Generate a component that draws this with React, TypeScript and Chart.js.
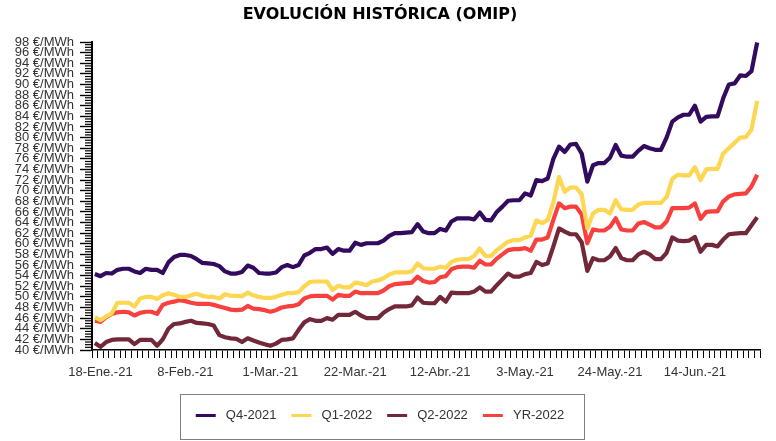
import React, { useEffect, useRef } from 'react';
import { Chart, registerables } from 'chart.js';

Chart.register(...registerables);

const MONTHS = ['Ene.', 'Feb.', 'Mar.', 'Abr.', 'May.', 'Jun.', 'Jul.'];
const START_DATE = [2021, 0, 15];
const POINT_COUNT = 118;

const TICK_LABELS = ['18-Ene.-21', '8-Feb.-21', '1-Mar.-21', '22-Mar.-21', '12-Abr.-21', '3-May.-21', '24-May.-21', '14-Jun.-21'];

const Y_MIN = 40;
const Y_MAX = 98;
const Y_MAJOR_STEP = 2;
const Y_MINOR_STEP = 0.5;

const Q4_2021 = [
  54.3, 53.9, 54.5, 54.4, 55.1, 55.3, 55.3, 54.8, 54.5, 55.3,
  55.1, 55.1, 54.5, 56.5, 57.5, 57.9, 57.9, 57.7, 57.1, 56.4,
  56.3, 56.2, 55.8, 54.8, 54.4, 54.4, 54.7, 55.9, 55.5, 54.5,
  54.4, 54.4, 54.6, 55.6, 56.0, 55.6, 56.0, 57.8, 58.3, 59.0,
  59.0, 59.3, 58.1, 59.0, 58.7, 58.7, 60.2, 59.8, 60.1, 60.1,
  60.1, 60.6, 61.5, 62.0, 62.0, 62.1, 62.2, 63.7, 62.3, 62.0,
  62.0, 62.8, 62.5, 64.2, 64.8, 64.8, 64.8, 64.6, 65.9, 64.5,
  64.4, 66.0, 67.0, 68.1, 68.2, 68.2, 69.5, 69.1, 72.0, 71.8,
  72.3, 76.0, 78.3, 77.3, 78.7, 78.8, 77.0, 71.7, 74.8, 75.2,
  75.2, 76.2, 78.6, 76.6, 76.4, 76.4, 77.5, 78.4, 78.0, 77.7,
  77.7, 80.0, 83.0, 83.8, 84.3, 84.3, 86.0, 83.0, 83.9, 84.0,
  84.0, 87.4, 90.0, 90.2, 91.7, 91.6, 92.5, 97.9,
];

const Q1_2022 = [
  46.2, 45.6, 46.3, 46.9, 48.9, 48.9, 48.9, 48.2, 49.7, 50.0,
  50.0, 49.6, 50.3, 50.7, 50.4, 50.0, 50.0, 50.3, 50.6, 50.2,
  50.0, 50.0, 49.7, 50.5, 50.2, 50.2, 50.1, 50.8, 50.3, 50.0,
  49.8, 49.8, 50.0, 50.4, 50.7, 50.7, 50.9, 52.0, 52.8, 52.9,
  52.9, 52.9, 51.3, 52.1, 51.8, 51.8, 52.7, 52.5, 52.2, 52.9,
  53.1, 53.5, 54.2, 54.6, 54.6, 54.6, 54.8, 56.3, 55.4, 55.3,
  55.3, 55.7, 55.5, 56.6, 57.0, 57.1, 57.1, 57.7, 59.1, 57.7,
  57.7, 58.8, 59.6, 60.4, 60.7, 60.7, 61.2, 61.5, 64.4, 63.9,
  64.5, 67.8, 72.6, 69.8, 70.6, 70.6, 69.3, 62.9, 65.7, 66.4,
  66.4, 65.7, 68.2, 66.5, 66.4, 66.4, 67.4, 67.7, 67.7, 67.7,
  67.7, 68.8, 72.2, 73.0, 72.9, 72.9, 74.4, 72.0, 74.0, 74.1,
  74.1, 77.0, 78.0, 79.0, 80.0, 80.1, 81.5, 86.9,
];

const Q2_2022 = [
  41.3, 40.6, 41.5, 41.9, 42.0, 42.0, 42.0, 41.1, 41.9, 41.9,
  41.9, 40.8, 42.0, 44.0, 44.9, 45.0, 45.3, 45.5, 45.1, 45.0,
  44.9, 44.6, 42.8, 42.4, 42.2, 42.1, 41.5, 42.2, 41.8, 41.4,
  41.1, 40.8, 41.2, 41.9, 42.0, 42.2, 43.8, 45.2, 45.8, 45.5,
  45.5, 46.0, 45.7, 46.6, 46.6, 46.6, 47.2, 46.5, 46.0, 46.0,
  46.0, 47.0, 47.7, 48.2, 48.2, 48.2, 48.4, 49.9, 48.9, 48.8,
  48.8, 50.0, 49.1, 50.8, 50.7, 50.7, 50.7, 51.0, 51.8, 51.0,
  51.0, 52.2, 53.3, 54.4, 53.8, 53.8, 54.3, 54.5, 56.6, 56.0,
  56.3, 59.5, 62.9, 62.3, 61.8, 61.8, 60.3, 54.9, 57.3, 56.9,
  56.9, 57.6, 59.2, 57.3, 56.9, 56.9, 58.0, 58.5, 58.0, 57.1,
  57.1, 58.3, 61.2, 60.6, 60.5, 60.6, 61.3, 58.5, 59.8, 59.8,
  59.5, 60.8, 61.8, 61.9, 62.0, 62.0, 63.5, 65.0,
];

const YR_2022 = [
  45.5, 45.3, 46.2, 46.8, 47.1, 47.2, 47.1, 46.5, 47.0, 47.2,
  47.2, 46.8, 48.5, 48.9, 49.1, 49.4, 49.2, 48.9, 48.7, 48.7,
  48.7, 48.5, 48.2, 47.9, 47.6, 47.5, 47.6, 48.3, 47.8, 47.7,
  47.5, 47.2, 47.5, 48.0, 48.2, 48.3, 48.6, 49.7, 50.1, 50.2,
  50.2, 50.2, 49.5, 50.4, 50.2, 50.2, 51.0, 50.7, 50.7, 50.7,
  50.7, 51.2, 52.0, 52.4, 52.5, 52.6, 52.7, 53.8, 53.0, 52.7,
  52.8, 53.7, 53.9, 55.2, 55.6, 55.7, 55.7, 55.5, 56.8, 56.1,
  56.1, 57.2, 58.0, 58.8, 59.0, 59.0, 59.2, 58.7, 60.8, 60.8,
  61.2, 64.5, 67.6, 66.7, 67.0, 67.0, 65.5, 60.1, 62.7, 62.5,
  62.5, 63.2, 64.8, 62.7, 62.5, 62.5, 63.8, 64.1, 63.6, 63.1,
  63.1, 64.2, 66.7, 66.7, 66.7, 66.8, 67.6, 64.7, 66.0, 66.1,
  66.1, 68.0, 68.9, 69.3, 69.4, 69.5, 70.8, 73.0,
];

const SERIES_NAMES = ['Q4-2021', 'Q1-2022', 'Q2-2022', 'YR-2022'];
const SERIES_COLORS = ['#320a5e', '#fdd652', '#722839', '#f8413e'];

function buildCategories(): string[] {
  const out: string[] = [];
  const d = new Date(Date.UTC(START_DATE[0], START_DATE[1], START_DATE[2]));
  while (out.length < POINT_COUNT) {
    const wd = d.getUTCDay();
    if (wd !== 0 && wd !== 6) {
      out.push(`${d.getUTCDate()}-${MONTHS[d.getUTCMonth()]}-21`);
    }
    d.setUTCDate(d.getUTCDate() + 1);
  }
  return out;
}

const CATEGORIES = buildCategories();

const legendBorderPlugin = {
  id: 'legendBorder',
  afterDraw(chart: any) {
    const lg = chart.legend;
    if (!lg || !lg.legendHitBoxes || !lg.legendHitBoxes.length) return;
    const hb = lg.legendHitBoxes;
    const first = hb[0];
    const last = hb[hb.length - 1];
    const cy = first.top + first.height / 2;
    const left = first.left - 16;
    const right = last.left + last.width + 19;
    const ctx = chart.ctx;
    ctx.save();
    ctx.strokeStyle = '#7f7f7f';
    ctx.lineWidth = 1;
    ctx.strokeRect(Math.round(left) + 0.5, Math.round(cy - 22) + 0.5, Math.round(right - left), 45);
    ctx.restore();
  },
};

const minorTicksPlugin = {
  id: 'minorTicks',
  afterDraw(chart: any) {
    const scale = chart.scales.y;
    if (!scale) return;
    const ctx = chart.ctx;
    const x = chart.chartArea.left;
    ctx.save();
    ctx.fillStyle = '#000';
    const n = Math.round((Y_MAX - Y_MIN) / Y_MINOR_STEP);
    const per = Math.round(Y_MAJOR_STEP / Y_MINOR_STEP);
    for (let k = 0; k <= n; k++) {
      if (k % per === 0) continue;
      const v = Y_MIN + k * Y_MINOR_STEP;
      const py = scale.getPixelForValue(v);
      ctx.fillRect(x - 7, py - 0.6, 7, 1.2);
    }
    ctx.restore();
  },
};

export default function App() {
  const ref = useRef<HTMLCanvasElement | null>(null);

  useEffect(() => {
    if (!ref.current) return;
    const seriesData = [Q4_2021, Q1_2022, Q2_2022, YR_2022];
    const axisFont = { family: '"Liberation Sans", Arial, sans-serif', size: 13 };
    const chart = new Chart(ref.current, {
      type: 'line',
      data: {
        labels: CATEGORIES,
        datasets: seriesData.map((vals, i) => ({
          label: SERIES_NAMES[i],
          data: vals,
          borderColor: SERIES_COLORS[i],
          backgroundColor: SERIES_COLORS[i],
          borderWidth: 4.2,
          pointRadius: 0,
          tension: 0,
          fill: false,
          borderJoinStyle: 'round' as const,
        })),
      },
      options: {
        animation: false,
        responsive: false,
        maintainAspectRatio: false,
        layout: { padding: { left: 0, right: 16, top: 0, bottom: 9 } },
        plugins: {
          title: {
            display: true,
            text: 'EVOLUCIÓN HISTÓRICA (OMIP)',
            color: '#000',
            font: { family: '"DejaVu Sans", Verdana, sans-serif', size: 16, weight: 'bold' },
            padding: { top: 5, bottom: 17.8 },
          },
          legend: {
            display: true,
            position: 'bottom',
            labels: {
              usePointStyle: true,
              pointStyle: 'line',
              pointStyleWidth: 20,
              padding: 15,
              color: '#333',
              font: axisFont,
              generateLabels: (c: any) =>
                (Chart.defaults.plugins.legend.labels.generateLabels as any)(c).map((l: any) => ({
                  ...l,
                  lineWidth: 3,
                  text: ' ' + l.text,
                })),
            },
          },
          tooltip: { enabled: false },
        },
        scales: {
          x: {
            type: 'category',
            offset: true,
            grid: {
              display: true,
              drawOnChartArea: false,
              offset: true,
              tickLength: 8,
              tickColor: '#000',
              tickWidth: 1,
            },
            border: { display: true, color: '#000', width: 1.5 },
            ticks: {
              autoSkip: false,
              maxRotation: 0,
              minRotation: 0,
              padding: 7,
              color: '#333',
              font: axisFont,
              callback: (_v: any, idx: number) => (TICK_LABELS.includes(CATEGORIES[idx]) ? CATEGORIES[idx] : ''),
            },
            afterFit: (s: any) => {
              s.height = 44;
            },
          },
          y: {
            type: 'linear',
            position: 'left',
            min: Y_MIN,
            max: Y_MAX,
            grid: {
              display: true,
              drawOnChartArea: false,
              tickLength: 12,
              tickColor: '#000',
              tickWidth: 1.4,
            },
            border: { display: true, color: '#000', width: 2 },
            ticks: {
              stepSize: Y_MAJOR_STEP,
              autoSkip: false,
              padding: 6,
              color: '#333',
              font: axisFont,
              callback: (v: any) => `${v} €/MWh`,
            },
            afterFit: (s: any) => {
              s.width = 92;
            },
          },
        },
      } as any,
      plugins: [legendBorderPlugin, minorTicksPlugin],
    });
    return () => chart.destroy();
  }, []);

  return (
    <div style={{ position: 'fixed', left: 0, top: 0, width: 776, height: 441, background: '#fff' }}>
      <canvas ref={ref} width={776} height={441} style={{ width: 776, height: 441, display: 'block' }} />
    </div>
  );
}
